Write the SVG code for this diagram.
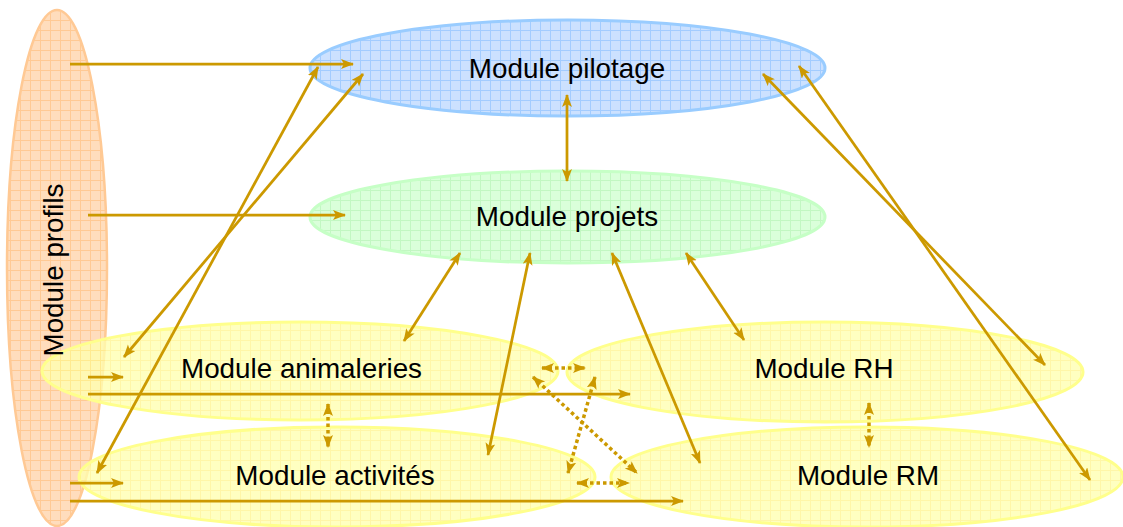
<svg xmlns="http://www.w3.org/2000/svg" width="1123" height="527" viewBox="0 0 1123 527">
<style>
text{font-family:"Liberation Sans",Arial,sans-serif;font-size:27.8px;fill:#000}
.c{fill:none;stroke:#CC9900;stroke-width:2.75;marker-end:url(#ah)}
.d{marker-start:url(#ah)}
.dot{stroke-width:3.5;stroke-dasharray:3.5 3}
</style>
<defs>
<marker id="ah" markerUnits="userSpaceOnUse" markerWidth="15" markerHeight="12" refX="12" refY="5" orient="auto-start-reverse" viewBox="0 0 15 12">
<path d="M0,0 L13,5 L0,10 L3,5 z" fill="#CC9900"/>
</marker>
<pattern id="pPeach" width="10" height="10" patternUnits="userSpaceOnUse">
<rect width="10" height="10" fill="#FFDDBD"/><path d="M0,0.5H10M0.5,0V10" stroke="#FFC994" stroke-width="1"/>
</pattern>
<pattern id="pBlue" width="10" height="10" patternUnits="userSpaceOnUse">
<rect width="10" height="10" fill="#CCE1FF"/><path d="M0,0.5H10M0.5,0V10" stroke="#A3CCFF" stroke-width="1"/>
</pattern>
<pattern id="pGreen" width="10" height="10" patternUnits="userSpaceOnUse">
<rect width="10" height="10" fill="#DAFFDA"/><path d="M0,0.5H10M0.5,0V10" stroke="#C2F7C2" stroke-width="1"/>
</pattern>
<pattern id="pYellow" width="10" height="10" patternUnits="userSpaceOnUse">
<rect width="10" height="10" fill="#FFFFB0"/><path d="M0,0.5H10M0.5,0V10" stroke="#FFF38F" stroke-width="1"/>
</pattern>
</defs>
<rect width="1123" height="527" fill="#fff"/>
<g id="profils">
<ellipse cx="57" cy="268" rx="50" ry="258" fill="url(#pPeach)" stroke="#FFC994" stroke-width="2.5"/>
</g>
<g id="pilotage">
<ellipse cx="567.5" cy="68" rx="257.5" ry="48" fill="url(#pBlue)" stroke="#99CCFF" stroke-width="3"/>
<text x="567" y="78" text-anchor="middle">Module pilotage</text>
</g>
<g id="projets">
<ellipse cx="567.5" cy="217" rx="257.5" ry="46" fill="url(#pGreen)" stroke="#C6FFC6" stroke-width="3"/>
<text x="567" y="226" text-anchor="middle">Module projets</text>
</g>
<g id="animaleries">
<ellipse cx="300" cy="371" rx="258" ry="49" fill="url(#pYellow)" fill-opacity="0.78" stroke="#FFFF8C" stroke-width="3"/>
<text x="301.5" y="378" text-anchor="middle">Module animaleries</text>
</g>
<g id="rh">
<ellipse cx="825" cy="372" rx="258" ry="50" fill="url(#pYellow)" fill-opacity="0.78" stroke="#FFFF8C" stroke-width="3"/>
<text x="824" y="378" text-anchor="middle">Module RH</text>
</g>
<g id="activites">
<ellipse cx="337" cy="477" rx="258" ry="50" fill="url(#pYellow)" fill-opacity="0.78" stroke="#FFFF8C" stroke-width="3"/>
<text x="335" y="485" text-anchor="middle">Module activités</text>
</g>
<g id="rm">
<ellipse cx="867" cy="477" rx="256" ry="50" fill="url(#pYellow)" fill-opacity="0.78" stroke="#FFFF8C" stroke-width="3"/>
<text x="868" y="485" text-anchor="middle">Module RM</text>
</g>
<g id="profils-label">
<text transform="translate(63,270) rotate(-90)" text-anchor="middle">Module profils</text>
</g>
<g id="connectors">
<line class="c" x1="70" y1="64" x2="353" y2="64"/>
<line class="c" x1="88" y1="215" x2="345" y2="215"/>
<line class="c" x1="88" y1="377" x2="123" y2="377"/>
<line class="c" x1="88" y1="394" x2="630" y2="394"/>
<line class="c" x1="70" y1="483" x2="123" y2="483"/>
<line class="c" x1="70" y1="501" x2="683" y2="501"/>
<line class="c d" x1="363" y1="74" x2="124" y2="357"/>
<line class="c d" x1="318" y1="67" x2="97" y2="473"/>
<line class="c d" x1="567" y1="95" x2="567" y2="181"/>
<line class="c d" x1="763" y1="74" x2="1045" y2="365"/>
<line class="c d" x1="799" y1="66" x2="1090" y2="480"/>
<line class="c d" x1="460" y1="253" x2="404" y2="341"/>
<line class="c d" x1="530" y1="253" x2="488" y2="455"/>
<line class="c d" x1="612" y1="253" x2="700" y2="463"/>
<line class="c d" x1="686" y1="253" x2="744" y2="340"/>
<line class="c d dot" x1="542" y1="368" x2="585" y2="368"/>
<line class="c d dot" x1="533" y1="377" x2="637" y2="473"/>
<line class="c d dot" x1="595" y1="377" x2="568" y2="473"/>
<line class="c d dot" x1="577" y1="483" x2="629" y2="483"/>
<line class="c d dot" x1="328" y1="404" x2="328" y2="447"/>
<line class="c d dot" x1="869" y1="403" x2="869" y2="447"/>
</g>
</svg>
